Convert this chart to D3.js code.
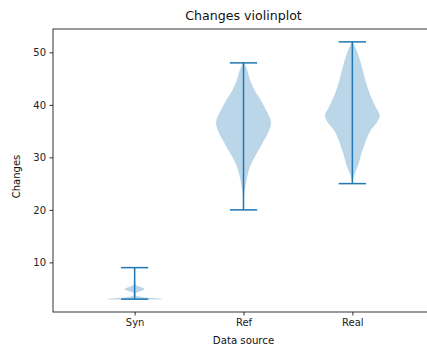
<!DOCTYPE html>
<html><head><meta charset="utf-8">
<script src="https://cdn.jsdelivr.net/npm/d3@7"></script>
<style>html,body{margin:0;padding:0;background:#fff;overflow:hidden}svg{display:block;font-family:"DejaVu Sans",sans-serif}</style>
</head><body>
<script>
const categories = ["Syn", "Ref", "Real"];
const positions = [1, 2, 3];
const mins = [3, 20, 25];
const maxs = [9, 48, 52];
// hand-read violin profiles: [value, relative half-width]
const synProfile = [[3,1.0],[3.15,0.6],[3.3,0.3],[3.5,0.12],[3.75,0.04],[4.0,0.02],[4.3,0.08],[4.6,0.22],[4.9,0.36],[5.2,0.25],[5.5,0.1],[5.8,0.03],[6.5,0.01],[9,0]];
const refProfile = [[20,0],[22,0.01],[23.5,0.03],[25,0.08],[26.5,0.14],[28.2,0.23],[30.1,0.41],[32.7,0.69],[35.2,0.94],[36.8,1.0],[39,0.82],[40.9,0.63],[42.8,0.4],[44.7,0.24],[46.6,0.13],[47.5,0.06],[48,0]];
const realProfile = [[25,0],[26,0.03],[27,0.09],[28.9,0.23],[30.5,0.31],[32,0.41],[33.6,0.52],[35.2,0.67],[36.7,0.9],[38,1.0],[39.5,0.86],[41.5,0.68],[43,0.57],[44.7,0.47],[46.3,0.39],[47.9,0.31],[49.2,0.23],[50.4,0.15],[51.3,0.07],[52,0]];
const profiles = [synProfile, refProfile, realProfile];
const yTicks = [10, 20, 30, 40, 50];
const title = "Changes violinplot";
const xLabel = "Data source";
const yLabel = "Changes";

const W = 427, H = 344;
const color = "#1f77b4";
const svg = d3.select("body").append("svg").attr("width", W).attr("height", H);

const x = d3.scaleLinear().domain([0.25, 3.75]).range([53, 434]);
const y = d3.scaleLinear().domain([0.55, 54.45]).range([312, 29]);
const halfW = 0.25, capW = 0.125;

// violins
profiles.forEach((prof, i) => {
  const p = positions[i];
  const area = d3.area()
    .y(d => y(d[0]))
    .x0(d => x(p - halfW * d[1]))
    .x1(d => x(p + halfW * d[1]))
    .curve(d3.curveCatmullRom);
  svg.append("path").datum(prof).attr("d", area)
    .attr("fill", color).attr("fill-opacity", 0.3)
    .attr("stroke", color).attr("stroke-opacity", 0.15).attr("stroke-width", 0.5);
});

// bars and caps
positions.forEach((p, i) => {
  const g = svg.append("g").attr("stroke", color).attr("stroke-width", 1.5);
  g.append("line").attr("x1", x(p)).attr("x2", x(p)).attr("y1", y(mins[i])).attr("y2", y(maxs[i]));
  g.append("line").attr("x1", x(p - capW)).attr("x2", x(p + capW)).attr("y1", y(mins[i])).attr("y2", y(mins[i]));
  g.append("line").attr("x1", x(p - capW)).attr("x2", x(p + capW)).attr("y1", y(maxs[i])).attr("y2", y(maxs[i]));
});

// axes
const xAxis = d3.axisBottom(x).tickValues(positions).tickFormat((d, i) => categories[i]).tickSizeInner(3.5).tickSizeOuter(0).tickPadding(3.5);
const yAxis = d3.axisLeft(y).tickValues(yTicks).tickSizeInner(3.5).tickSizeOuter(0).tickPadding(3.5);
const gx = svg.append("g").attr("transform", "translate(0,312)").call(xAxis);
const gy = svg.append("g").attr("transform", "translate(53,0)").call(yAxis);
[gx, gy].forEach(g => {
  g.select(".domain").remove();
  g.selectAll(".tick line").attr("stroke", "#000").attr("stroke-width", 0.8);
  g.selectAll(".tick text").attr("font-size", 10).attr("fill", "#222").attr("font-family", "DejaVu Sans");
});
// frame
svg.append("rect").attr("x", 53).attr("y", 29).attr("width", 434 - 53).attr("height", 312 - 29)
  .attr("fill", "none").attr("stroke", "#000").attr("stroke-width", 0.8);

svg.append("text").attr("x", 243.5).attr("y", 19.5).attr("text-anchor", "middle")
  .attr("font-size", 12.6).attr("fill", "#111").text(title);
svg.append("text").attr("x", 243.5).attr("y", 343.5).attr("text-anchor", "middle")
  .attr("font-size", 10.2).attr("fill", "#111").text(xLabel);
svg.append("text").attr("transform", "translate(20,176.5) rotate(-90)").attr("text-anchor", "middle")
  .attr("font-size", 10).attr("fill", "#111").text(yLabel);
</script>
</body></html>
